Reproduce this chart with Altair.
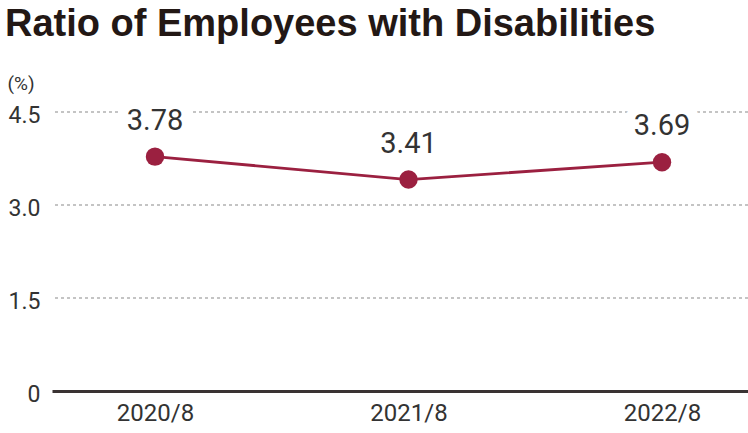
import altair as alt
import pandas as pd

years = ["2020/8", "2021/8", "2022/8"]
ratios = [3.78, 3.41, 3.69]
labels = ["3.78", "3.41", "3.69"]
y_ticks = [0, 1.5, 3.0, 4.5]
grid_values = [1.5, 3.0, 4.5]

df = pd.DataFrame({"year": years, "ratio": ratios, "label": labels})
grid_df = pd.DataFrame({"ratio": grid_values})

COLOR = "#9b2040"
FONT = "Roboto, Liberation Sans, sans-serif"

yscale = alt.Scale(domain=[0, 4.5], nice=False, zero=True)
yaxis = alt.Axis(values=y_ticks, labelExpr="datum.value == 0 ? '0' : format(datum.value, '.1f')",
                 title="(%)", titleAngle=0, titleAlign="left", titleBaseline="alphabetic",
                 titleX=-45, titleY=-23, titleFontSize=19, titleFontWeight="normal",
                 titleColor="#333333", titleFont=FONT,
                 domain=False, ticks=False, labelFontSize=23, labelColor="#333333",
                 labelFont=FONT, labelPadding=12, labelOffset=3, grid=False)

x = alt.X("year:N", sort=years,
          scale=alt.Scale(type="point", padding=0.3728, align=0.545),
          axis=alt.Axis(title=None, ticks=False, grid=False, domainColor="#3a3333",
                        domainWidth=3, labelFontSize=24, labelColor="#333333",
                        labelFont=FONT, labelPadding=10, labelAngle=0))
y = alt.Y("ratio:Q", scale=yscale, axis=yaxis)

grid = alt.Chart(grid_df).mark_rule(color="#c4c4c4", strokeDash=[3, 3], strokeWidth=1.8).encode(
    y=alt.Y("ratio:Q", scale=yscale, axis=yaxis))

base = alt.Chart(df).encode(x=x, y=y)

line = base.mark_line(color=COLOR, strokeWidth=2.8)
pts = base.mark_circle(color=COLOR, size=340, opacity=1)
halo = base.mark_text(dy=-36, fontSize=29, font=FONT, stroke="white", strokeWidth=20,
                      fill="white").encode(text="label:N")
txt = base.mark_text(dy=-36, fontSize=29, font=FONT, color="#333333").encode(text="label:N")

chart = alt.layer(grid, halo, line, pts, txt).properties(
    width=696, height=279,
    autosize=alt.AutoSizeParams(type="none"),
    padding={"left": 52, "top": 112, "right": 0, "bottom": 42},
    title=alt.TitleParams("Ratio of Employees with Disabilities", anchor="start",
                          fontSize=38, fontWeight="bold", font="Liberation Sans, Arial, sans-serif",
                          color="#231815", offset=30, dx=-2)
).configure_view(stroke=None)

chart.save("out.html", embed_options={"renderer": "svg", "actions": False})
